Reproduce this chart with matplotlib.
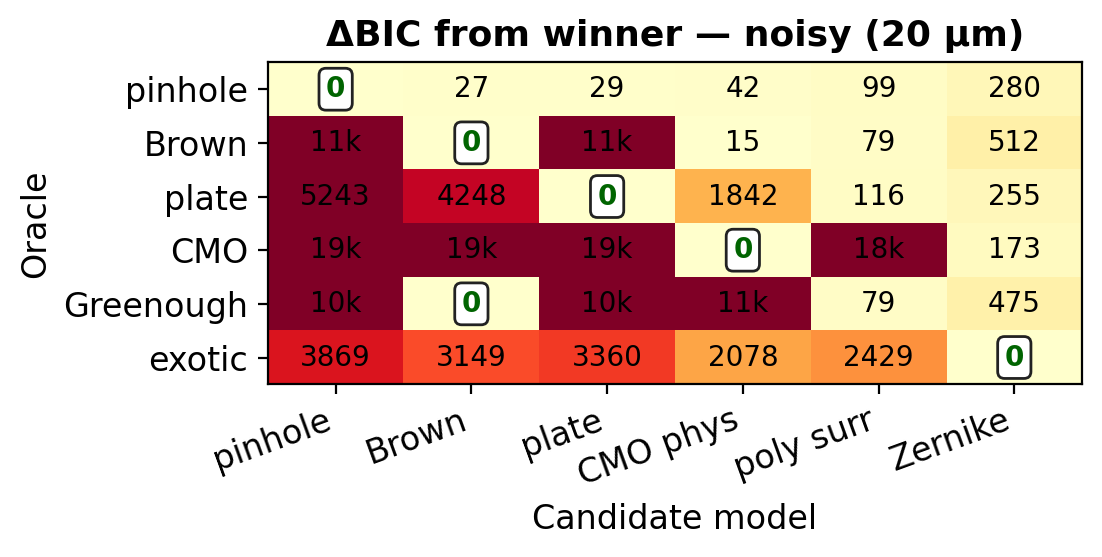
import numpy as np
import matplotlib
matplotlib.use("Agg")
import matplotlib.pyplot as plt

# rows = oracle, cols = candidate model
oracles = ["pinhole", "Brown", "plate", "CMO", "Greenough", "exotic"]
candidates = ["pinhole", "Brown", "plate", "CMO phys", "poly surr", "Zernike"]
dbic = np.array([
    [0, 27, 29, 42, 99, 280],
    [11000, 0, 11000, 15, 79, 512],
    [5243, 4248, 0, 1842, 116, 255],
    [19000, 19000, 19000, 0, 18000, 173],
    [10000, 0, 10000, 11000, 79, 475],
    [3869, 3149, 3360, 2078, 2429, 0],
])

fig, ax = plt.subplots(figsize=(5.51, 2.785), dpi=200)
ax.imshow(dbic, cmap="YlOrRd", vmin=0, vmax=5000, aspect="auto")

for i in range(dbic.shape[0]):
    for j in range(dbic.shape[1]):
        v = dbic[i, j]
        if v == 0:
            ax.text(j, i, "0", ha="center", va="center", fontsize=10,
                    fontweight="bold", color="darkgreen",
                    bbox=dict(boxstyle="round,pad=0.25", fc="white", ec="#222222", lw=1))
        else:
            s = f"{v/1000:.0f}k" if v >= 10000 else f"{v:.0f}"
            ax.text(j, i, s, ha="center", va="center", fontsize=10, color="black")

ax.set_xticks(range(len(candidates)))
ax.set_xticklabels(candidates, rotation=20, ha="right", fontsize=12)
ax.set_yticks(range(len(oracles)))
ax.set_yticklabels(oracles, fontsize=12)
ax.set_xlabel("Candidate model", fontsize=12)
ax.set_ylabel("Oracle", fontsize=12)
ax.set_title("ΔBIC from winner — noisy (20 µm)", fontsize=13, fontweight="bold")

fig.subplots_adjust(left=0.243, right=0.982, top=0.888, bottom=0.31)
fig.savefig("out.png", dpi=200)
